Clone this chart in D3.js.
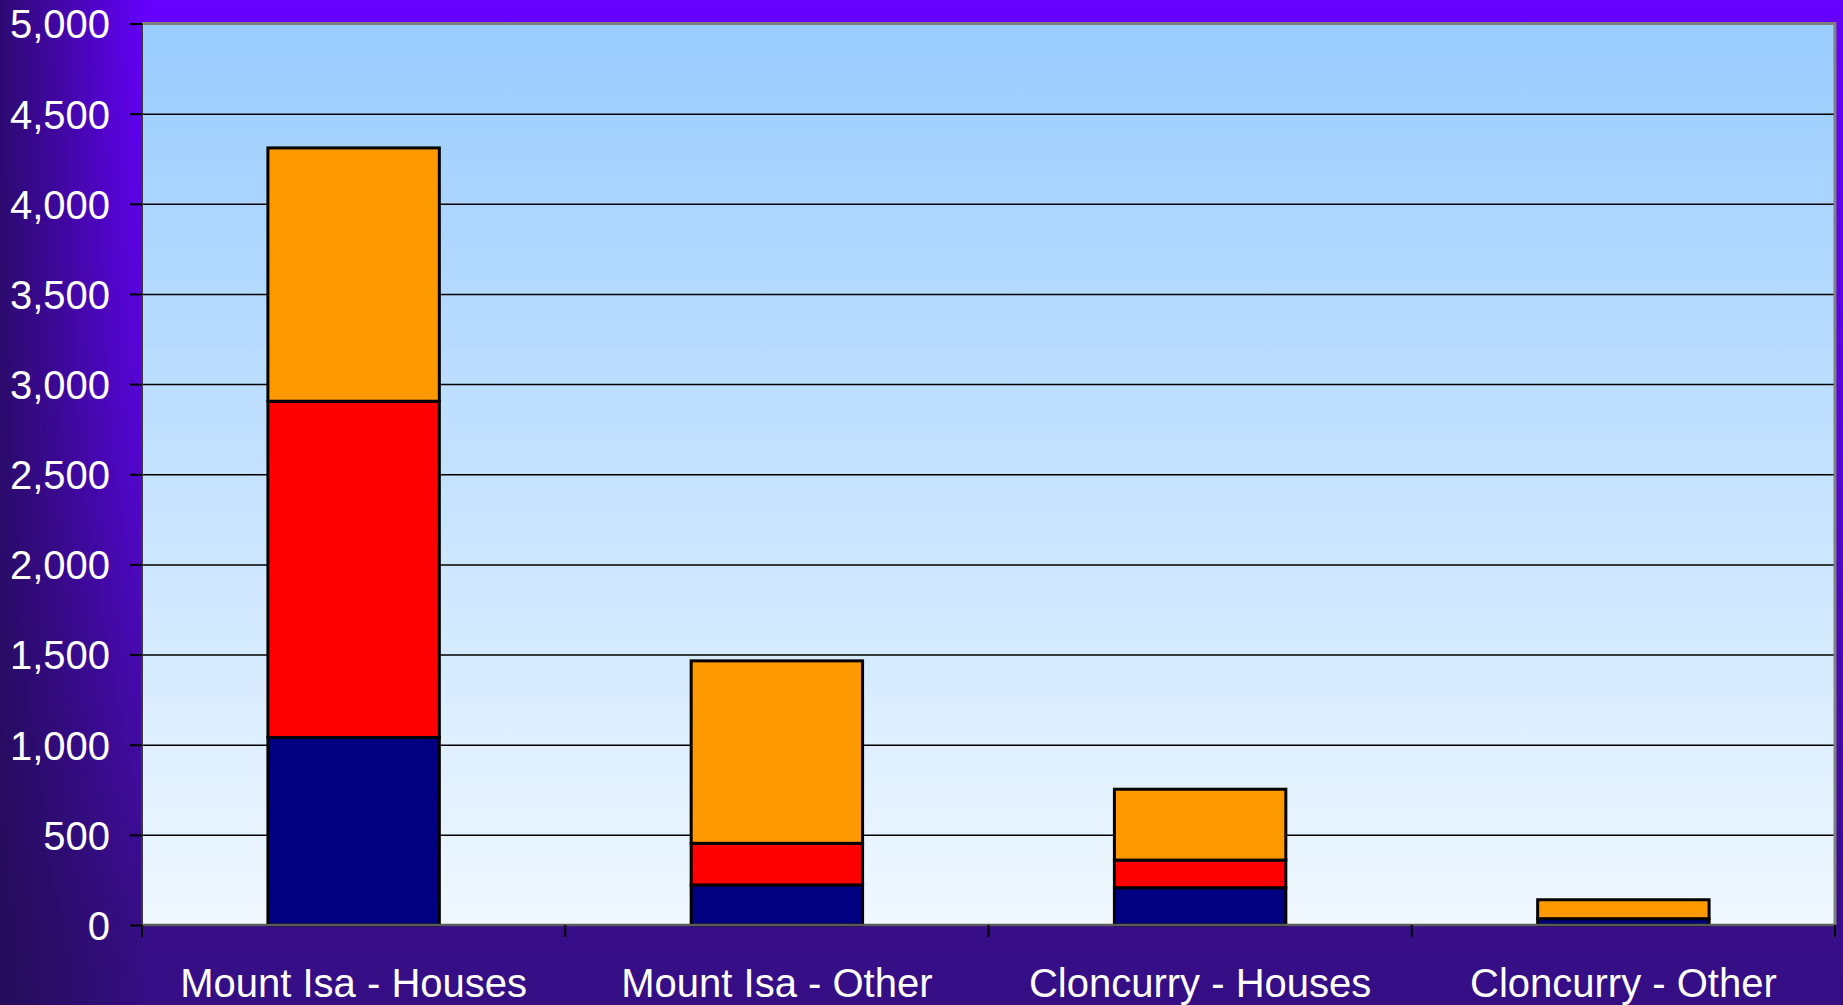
<!DOCTYPE html>
<html>
<head>
<meta charset="utf-8">
<title>Mount Isa and Cloncurry dwellings</title>
<script src="https://cdn.jsdelivr.net/npm/d3@7"></script>
<style>
  html, body { margin: 0; padding: 0; background: #360e88; }
  svg { display: block; }
</style>
</head>
<body>
<svg id="chart" width="1843" height="1005"></svg>
<script>
// Categories along the x axis
const categories = ["Mount Isa - Houses", "Mount Isa - Other", "Cloncurry - Houses", "Cloncurry - Other"];

// Stacked series, bottom to top
const series1 = [1040, 222, 207, 35];   // navy
const series2 = [1865, 231, 153, 0];    // red
const series3 = [1405, 1012, 393, 105]; // orange

const seriesColors = ["#000080", "#ff0000", "#ff9900"];

// Value axis ticks
const yTicks = [0, 500, 1000, 1500, 2000, 2500, 3000, 3500, 4000, 4500, 5000];

const W = 1843, H = 1005;
const plot = { left: 142, right: 1835, top: 23.5, bottom: 925 };

const svg = d3.select("#chart");
const defs = svg.append("defs");

// Page background: bright violet at the top fading darker downward,
// with a darker band along the left edge
const bgV = defs.append("linearGradient").attr("id", "bgV")
  .attr("x1", 0).attr("y1", 0).attr("x2", 0).attr("y2", 1);
bgV.append("stop").attr("offset", "0%").attr("stop-color", "#6600ff");
bgV.append("stop").attr("offset", "45%").attr("stop-color", "#5606d8");
bgV.append("stop").attr("offset", "92%").attr("stop-color", "#370e88");
bgV.append("stop").attr("offset", "100%").attr("stop-color", "#350e84");

const bgH = defs.append("linearGradient").attr("id", "bgH")
  .attr("gradientUnits", "userSpaceOnUse")
  .attr("x1", 0).attr("y1", 0).attr("x2", 150).attr("y2", 0);
bgH.append("stop").attr("offset", "0%").attr("stop-color", "#200c50").attr("stop-opacity", 0.8);
bgH.append("stop").attr("offset", "40%").attr("stop-color", "#200c50").attr("stop-opacity", 0.5);
bgH.append("stop").attr("offset", "100%").attr("stop-color", "#200c50").attr("stop-opacity", 0);

// Plot area: sky blue at the top to near white at the bottom
const plotGrad = defs.append("linearGradient").attr("id", "plotGrad")
  .attr("x1", 0).attr("y1", 0).attr("x2", 0).attr("y2", 1);
plotGrad.append("stop").attr("offset", "0%").attr("stop-color", "#99ccff");
plotGrad.append("stop").attr("offset", "100%").attr("stop-color", "#f0f8ff");

svg.append("rect").attr("width", W).attr("height", H).attr("fill", "url(#bgV)");
svg.append("rect").attr("width", W).attr("height", H).attr("fill", "url(#bgH)");

// Scales
const x = d3.scaleBand()
  .domain(categories)
  .range([plot.left, plot.right])
  .paddingInner(0.595)
  .paddingOuter(0.2975);

const y = d3.scaleLinear()
  .domain([0, 5000])
  .range([plot.bottom, plot.top]);

// Plot background
svg.append("rect")
  .attr("x", plot.left).attr("y", plot.top)
  .attr("width", plot.right - plot.left).attr("height", plot.bottom - plot.top)
  .attr("fill", "url(#plotGrad)");

// Horizontal gridlines
const grid = svg.append("g")
  .attr("transform", `translate(${plot.left},0)`)
  .call(d3.axisLeft(y).tickValues(yTicks.filter(v => v > 0 && v < 5000))
    .tickSize(-(plot.right - plot.left)).tickFormat(""));
grid.select(".domain").remove();
grid.selectAll(".tick line").attr("stroke", "#000").attr("stroke-width", 1.5);

// Plot frame: grey top and right edges
svg.append("path")
  .attr("d", `M${plot.left},${plot.top}H${plot.right}V${plot.bottom}`)
  .attr("fill", "none").attr("stroke", "#808080").attr("stroke-width", 3);

// Stacked bars
const table = categories.map((c, i) => ({ category: c, s1: series1[i], s2: series2[i], s3: series3[i] }));
const stack = d3.stack().keys(["s1", "s2", "s3"]);
const layers = stack(table);

svg.append("g").selectAll("g")
  .data(layers)
  .join("g")
  .attr("fill", (d, i) => seriesColors[i])
  .selectAll("rect")
  .data(d => d.map(p => Object.assign(p, { cat: p.data.category })))
  .join("rect")
  .attr("x", d => x(d.cat))
  .attr("width", x.bandwidth())
  .attr("y", d => y(d[1]))
  .attr("height", d => y(d[0]) - y(d[1]))
  .attr("stroke", "#000")
  .attr("stroke-width", 3);

// Value axis
const yAxis = svg.append("g")
  .attr("transform", `translate(${plot.left},0)`)
  .call(d3.axisLeft(y).tickValues(yTicks).tickFormat(d3.format(",")).tickSize(12).tickPadding(20));
yAxis.select(".domain").attr("stroke", "#3a3a3a").attr("stroke-width", 2)
  .attr("d", `M0,${plot.top}V${plot.bottom}`);
yAxis.selectAll(".tick line").attr("stroke", "#000").attr("stroke-width", 2);
yAxis.selectAll(".tick text")
  .attr("fill", "#fff")
  .attr("dy", "0.36em")
  .style("font-family", "'Liberation Sans', Arial, sans-serif")
  .style("font-size", "40px");

// Category axis
const xAxis = svg.append("g")
  .attr("transform", `translate(0,${plot.bottom})`)
  .call(d3.axisBottom(x).tickSize(0).tickPadding(0));
xAxis.select(".domain").attr("stroke", "#5a5a5a").attr("stroke-width", 2.5)
  .attr("d", `M${plot.left},0H${plot.right}`);
xAxis.selectAll(".tick text")
  .attr("fill", "#fff")
  .attr("y", 72)
  .attr("dy", 0)
  .style("font-family", "'Liberation Sans', Arial, sans-serif")
  .style("font-size", "40px");

// Tick marks between categories
const boundaries = d3.range(categories.length + 1).map(i => x.range()[0] + i * x.step());
xAxis.selectAll(".boundary")
  .data(boundaries)
  .join("line")
  .attr("class", "boundary")
  .attr("x1", d => d).attr("x2", d => d)
  .attr("y1", 0).attr("y2", 12)
  .attr("stroke", "#000").attr("stroke-width", 2);
</script>
</body>
</html>
